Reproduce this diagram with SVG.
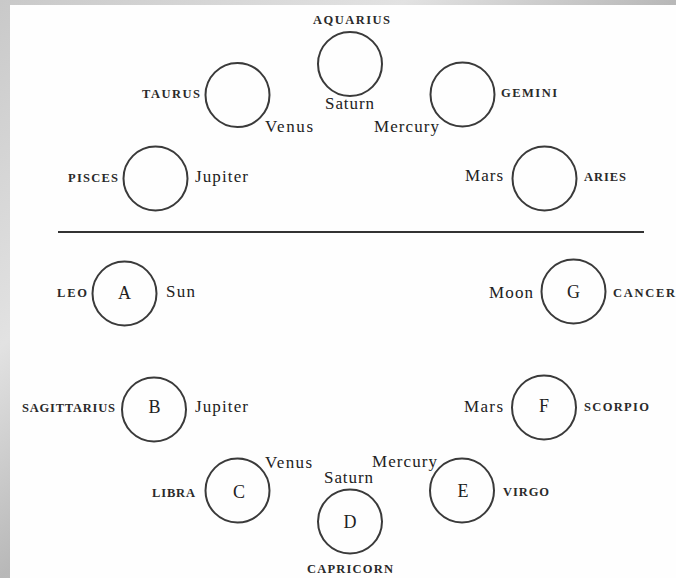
<svg xmlns="http://www.w3.org/2000/svg" width="676" height="578" viewBox="0 0 676 578">
<defs>
<linearGradient id="marble" x1="0" y1="0" x2="1" y2="1">
<stop offset="0" stop-color="#c9c9c9"/>
<stop offset="0.3" stop-color="#e2e2e2"/>
<stop offset="0.5" stop-color="#b8b8b8"/>
<stop offset="0.7" stop-color="#dcdcdc"/>
<stop offset="1" stop-color="#c4c4c4"/>
</linearGradient>
</defs>
<style>
.ring{fill:none;stroke:#3a3a3a;stroke-width:2}
.sign{font-family:"Liberation Serif","Times New Roman",serif;font-size:12.5px;font-weight:bold;fill:#2a2a2a}
.planet{font-family:"Liberation Serif","Times New Roman",serif;font-size:17px;fill:#222}
.letter{font-family:"Liberation Serif","Times New Roman",serif;font-size:18px;fill:#222;text-anchor:middle}
.divider{stroke:#333;stroke-width:2}
</style>
<rect x="0" y="0" width="676" height="578" fill="url(#marble)"/>
<rect x="10" y="5" width="666" height="573" fill="#fefefe"/>

<g id="aquarius">
<circle class="ring" cx="350" cy="64" r="32"/>
<text class="sign" x="313" y="24" textLength="77" lengthAdjust="spacing">AQUARIUS</text>
<text class="planet" x="325" y="109" textLength="49" lengthAdjust="spacing">Saturn</text>
</g>
<g id="taurus">
<circle class="ring" cx="237.5" cy="95" r="32"/>
<text class="sign" x="142" y="98" textLength="58" lengthAdjust="spacing">TAURUS</text>
<text class="planet" x="265" y="132" textLength="48" lengthAdjust="spacing">Venus</text>
</g>
<g id="gemini">
<circle class="ring" cx="462.5" cy="94.5" r="32"/>
<text class="sign" x="501" y="97" textLength="56" lengthAdjust="spacing">GEMINI</text>
<text class="planet" x="374" y="132" textLength="65" lengthAdjust="spacing">Mercury</text>
</g>
<g id="pisces">
<circle class="ring" cx="155.5" cy="178.5" r="32"/>
<text class="sign" x="68" y="182" textLength="50" lengthAdjust="spacing">PISCES</text>
<text class="planet" x="195" y="182" textLength="53" lengthAdjust="spacing">Jupiter</text>
</g>
<g id="aries">
<circle class="ring" cx="544.5" cy="178.5" r="32"/>
<text class="sign" x="584" y="181" textLength="42" lengthAdjust="spacing">ARIES</text>
<text class="planet" x="465" y="181" textLength="38" lengthAdjust="spacing">Mars</text>
</g>

<line class="divider" x1="58" y1="232" x2="644" y2="232"/>

<g id="node-a">
<circle class="ring" cx="124.5" cy="293.5" r="32"/>
<text class="letter" x="124.5" y="299">A</text>
<text class="sign" x="57" y="297" textLength="30" lengthAdjust="spacing">LEO</text>
<text class="planet" x="166" y="297" textLength="29" lengthAdjust="spacing">Sun</text>
</g>
<g id="node-b">
<circle class="ring" cx="154" cy="409.5" r="32"/>
<text class="letter" x="154.5" y="413">B</text>
<text class="sign" x="22" y="412" textLength="93" lengthAdjust="spacing">SAGITTARIUS</text>
<text class="planet" x="195" y="412" textLength="53" lengthAdjust="spacing">Jupiter</text>
</g>
<g id="node-c">
<circle class="ring" cx="237.5" cy="490.5" r="32"/>
<text class="letter" x="239" y="498">C</text>
<text class="sign" x="152" y="497" textLength="43" lengthAdjust="spacing">LIBRA</text>
<text class="planet" x="265" y="468" textLength="47" lengthAdjust="spacing">Venus</text>
</g>
<g id="node-d">
<circle class="ring" cx="350" cy="521.5" r="32"/>
<text class="letter" x="350" y="528">D</text>
<text class="sign" x="307" y="573" textLength="86" lengthAdjust="spacing">CAPRICORN</text>
<text class="planet" x="324" y="483" textLength="49" lengthAdjust="spacing">Saturn</text>
</g>
<g id="node-e">
<circle class="ring" cx="462" cy="490.5" r="32"/>
<text class="letter" x="463" y="497">E</text>
<text class="sign" x="503" y="496" textLength="46" lengthAdjust="spacing">VIRGO</text>
<text class="planet" x="372" y="467" textLength="65" lengthAdjust="spacing">Mercury</text>
</g>
<g id="node-f">
<circle class="ring" cx="544" cy="407.5" r="32"/>
<text class="letter" x="544" y="412">F</text>
<text class="sign" x="584" y="411" textLength="65" lengthAdjust="spacing">SCORPIO</text>
<text class="planet" x="464" y="412" textLength="39" lengthAdjust="spacing">Mars</text>
</g>
<g id="node-g">
<circle class="ring" cx="573.5" cy="291.5" r="32"/>
<text class="letter" x="573.5" y="298">G</text>
<text class="sign" x="613" y="297" textLength="62" lengthAdjust="spacing">CANCER</text>
<text class="planet" x="489" y="298" textLength="44" lengthAdjust="spacing">Moon</text>
</g>

<g id="connectors"/>
</svg>
